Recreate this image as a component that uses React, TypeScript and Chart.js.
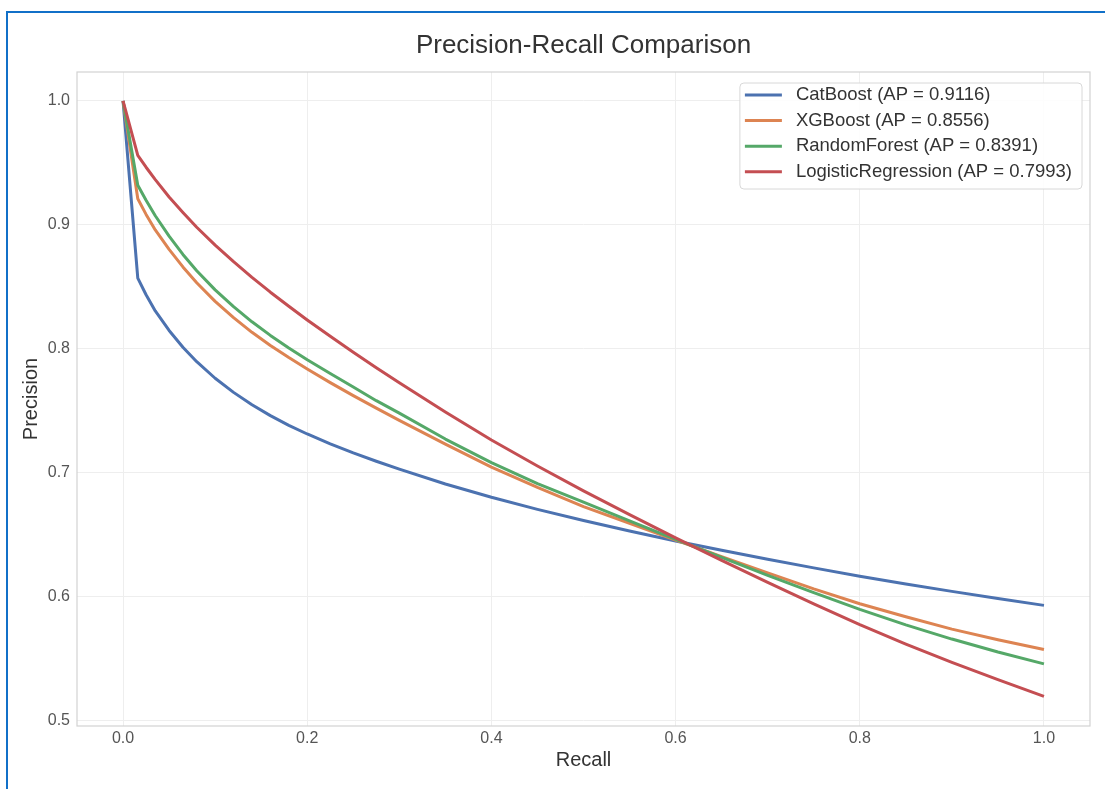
import React, { useEffect, useRef } from "react";
import { Chart, registerables } from "chart.js";

Chart.register(...registerables);

// ---- data ----
const recall = [0, 0.016, 0.025, 0.035, 0.05, 0.065, 0.08, 0.1, 0.12, 0.14, 0.16, 0.18, 0.2, 0.225, 0.25, 0.275, 0.3, 0.35, 0.4, 0.45, 0.5, 0.55, 0.6, 0.65, 0.7, 0.75, 0.8, 0.85, 0.9, 0.95, 1.0];
const catBoost = [1.0, 0.857, 0.8435, 0.8305, 0.8147, 0.8012, 0.7895, 0.7761, 0.7647, 0.7547, 0.7459, 0.7381, 0.7311, 0.7231, 0.7158, 0.7091, 0.7027, 0.6907, 0.680, 0.6702, 0.6612, 0.6527, 0.6447, 0.6372, 0.630, 0.623, 0.6162, 0.610, 0.604, 0.5982, 0.5927];
const xgBoost = [1.0, 0.921, 0.9084, 0.8959, 0.8802, 0.866, 0.8532, 0.8382, 0.825, 0.8132, 0.8026, 0.7928, 0.7836, 0.7726, 0.7621, 0.752, 0.7421, 0.7229, 0.7044, 0.6879, 0.6724, 0.659, 0.6455, 0.632, 0.619, 0.606, 0.594, 0.5835, 0.5735, 0.565, 0.557];
const randomForest = [1.0, 0.932, 0.9198, 0.9073, 0.8908, 0.8761, 0.8629, 0.8475, 0.8339, 0.8217, 0.8107, 0.8005, 0.791, 0.78, 0.769, 0.758, 0.748, 0.727, 0.708, 0.691, 0.676, 0.661, 0.646, 0.6315, 0.617, 0.603, 0.5895, 0.577, 0.5655, 0.555, 0.5455];
const logisticRegression = [1.0, 0.956, 0.9465, 0.9365, 0.9225, 0.910, 0.898, 0.8836, 0.8702, 0.8576, 0.8456, 0.8342, 0.8232, 0.810, 0.7971, 0.7846, 0.7724, 0.7489, 0.7262, 0.7052, 0.6852, 0.666, 0.6472, 0.629, 0.6112, 0.594, 0.5772, 0.5615, 0.5467, 0.5327, 0.5192];

const seriesLabels = [
  "CatBoost (AP = 0.9116)",
  "XGBoost (AP = 0.8556)",
  "RandomForest (AP = 0.8391)",
  "LogisticRegression (AP = 0.7993)",
];
const seriesValues = [catBoost, xgBoost, randomForest, logisticRegression];
const seriesColors = ["#4C72B0", "#DD8452", "#55A868", "#C44E52"];

const xTicks = [0.0, 0.2, 0.4, 0.6, 0.8, 1.0];
const yTicks = [0.5, 0.6, 0.7, 0.8, 0.9, 1.0];

const FONT = '"Liberation Sans", Arial, sans-serif';

const plotFramePlugin = {
  id: "plotFrame",
  beforeDatasetsDraw(chart: any) {
    const { ctx, chartArea } = chart;
    ctx.save();
    ctx.strokeStyle = "#d2d2d2";
    ctx.lineWidth = 1.2;
    ctx.strokeRect(chartArea.left, chartArea.top, chartArea.right - chartArea.left, chartArea.bottom - chartArea.top);
    ctx.restore();
  },
};

const boxLegendPlugin = {
  id: "boxLegend",
  afterDraw(chart: any) {
    const { ctx, chartArea } = chart;
    const ds = chart.data.datasets;
    ctx.save();
    ctx.font = `18.5px ${FONT}`;
    const maxW = Math.max(...ds.map((d: any) => ctx.measureText(d.label).width));
    const w = 56 + maxW + 10;
    const rowH = 25.6;
    const h = 106;
    const x = chartArea.right - 8 - w;
    const y = chartArea.top + 11;
    const r = 4;
    ctx.beginPath();
    ctx.moveTo(x + r, y);
    ctx.lineTo(x + w - r, y);
    ctx.arcTo(x + w, y, x + w, y + r, r);
    ctx.lineTo(x + w, y + h - r);
    ctx.arcTo(x + w, y + h, x + w - r, y + h, r);
    ctx.lineTo(x + r, y + h);
    ctx.arcTo(x, y + h, x, y + h - r, r);
    ctx.lineTo(x, y + r);
    ctx.arcTo(x, y, x + r, y, r);
    ctx.closePath();
    ctx.fillStyle = "rgba(255,255,255,0.85)";
    ctx.fill();
    ctx.strokeStyle = "#d8d8d8";
    ctx.lineWidth = 1;
    ctx.stroke();
    ds.forEach((d: any, i: number) => {
      const cy = y + 12 + i * rowH;
      ctx.beginPath();
      ctx.moveTo(x + 5, cy);
      ctx.lineTo(x + 42, cy);
      ctx.strokeStyle = d.borderColor;
      ctx.lineWidth = 3;
      ctx.stroke();
      ctx.fillStyle = "#333333";
      ctx.textBaseline = "middle";
      ctx.textAlign = "left";
      ctx.fillText(d.label, x + 56, cy);
    });
    ctx.restore();
  },
};

export default function App() {
  const canvasRef = useRef<HTMLCanvasElement | null>(null);

  useEffect(() => {
    if (!canvasRef.current) return;
    const datasets = seriesLabels.map((label, i) => ({
      label,
      data: recall.map((r, j) => ({ x: r, y: seriesValues[i][j] })),
      borderColor: seriesColors[i],
      backgroundColor: seriesColors[i],
      borderWidth: 3,
      pointRadius: 0,
      tension: 0,
      borderJoinStyle: "round",
      fill: false,
      order: seriesLabels.length - i,
    }));

    const chart = new Chart(canvasRef.current, {
      type: "line",
      data: { datasets },
      plugins: [plotFramePlugin, boxLegendPlugin],
      options: {
        animation: false,
        responsive: false,
        devicePixelRatio: 1,
        layout: { padding: { left: 0, right: 15, top: 0, bottom: 0 } },
        plugins: {
          legend: { display: false },
          tooltip: { enabled: false },
          title: {
            display: true,
            text: "Precision-Recall Comparison",
            fullSize: false,
            color: "#333333",
            font: { family: FONT, size: 26, weight: "normal", lineHeight: 1.2 },
            padding: { top: 30, bottom: 10.8 },
          },
        },
        scales: {
          x: {
            type: "linear",
            min: -0.05,
            max: 1.05,
            afterBuildTicks: (scale: any) => {
              scale.ticks = xTicks.map((v) => ({ value: v }));
            },
            afterFit: (scale: any) => {
              scale.height = 63;
            },
            grid: { color: "#eeeeee", lineWidth: 1, drawTicks: false },
            border: { display: false },
            ticks: {
              color: "#555555",
              font: { family: FONT, size: 16 },
              padding: 3,
              callback: (v: any) => Number(v).toFixed(1),
            },
            title: {
              display: true,
              text: "Recall",
              color: "#333333",
              font: { family: FONT, size: 20, lineHeight: 1.2 },
              padding: { top: 0, bottom: 17 },
            },
          },
          y: {
            type: "linear",
            min: 0.4953,
            max: 1.0234,
            afterBuildTicks: (scale: any) => {
              scale.ticks = yTicks.map((v) => ({ value: v }));
            },
            afterFit: (scale: any) => {
              scale.width = 77;
            },
            grid: { color: "#eeeeee", lineWidth: 1, drawTicks: false },
            border: { display: false },
            ticks: {
              color: "#555555",
              font: { family: FONT, size: 16 },
              padding: 7,
              callback: (v: any) => Number(v).toFixed(1),
            },
            title: {
              display: true,
              text: "Precision",
              color: "#333333",
              font: { family: FONT, size: 20, lineHeight: 1.2 },
              padding: { top: 19, bottom: 0 },
            },
          },
        },
      } as any,
    });
    return () => chart.destroy();
  }, []);

  return (
    <div style={{ position: "absolute", left: 0, top: 0, width: 1105, height: 789, background: "#ffffff", overflow: "hidden" }}>
      <canvas ref={canvasRef} width={1105} height={789} style={{ position: "absolute", left: 0, top: 0, width: 1105, height: 789 }} />
      <div
        style={{
          position: "absolute",
          left: 6,
          top: 11,
          width: 1200,
          height: 900,
          borderLeft: "2px solid #1170c8",
          borderTop: "2px solid #1170c8",
          pointerEvents: "none",
        }}
      />
    </div>
  );
}
